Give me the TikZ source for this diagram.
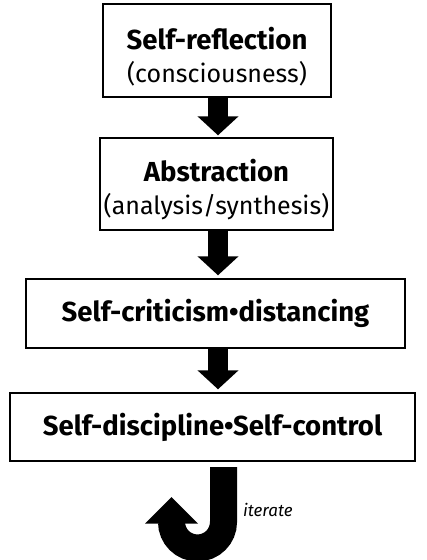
\documentclass[tikz,border=0pt]{standalone}
\usepackage{fontspec}
\setmainfont{Fira Sans}
\usetikzlibrary{arrows.meta}
\newcommand{\bigb}[1]{{\fontsize{27.5}{33}\selectfont\bfseries #1}}
\begin{document}
\begin{tikzpicture}[x=1pt,y=-1pt,
  box/.style={draw, line width=1.4pt, align=center, inner sep=0pt,
    font=\fontsize{25}{33}\selectfont},
  blockarrow/.style={line width=20pt, -{Triangle[width=40pt,length=19pt]}},
  jshape/.style={line width=27pt},
  lbl/.style={font=\fontsize{17}{20}\selectfont\itshape, inner sep=0pt, anchor=west}]
\useasboundingbox (0,0) rectangle (427,560);
\node[box, minimum width=228pt, minimum height=93pt] (b1) at (217,50.5)
  {\rule{0pt}{34pt}\bigb{Self-reflection}\\(consciousness)};
\node[box, minimum width=233pt, minimum height=92pt] (b2) at (216.5,184)
  {\rule{0pt}{34pt}\bigb{Abstraction}\\(analysis/synthesis)};
\node[box, minimum width=379pt, minimum height=69pt] (b3) at (215.5,313.5)
  {\bigb{Self-criticism•distancing}};
\node[box, minimum width=405pt, minimum height=68pt] (b4) at (212.5,427)
  {\bigb{Self-discipline•Self-control}};
\coordinate (a1s) at (218,97);
\draw[blockarrow, shorten >=2pt] (a1s) -- (a1s |- b2.north);
\coordinate (a2s) at (218,230);
\draw[blockarrow, shorten >=3pt] (a2s) -- (a2s |- b3.north);
\coordinate (a3s) at (218,348);
\draw[blockarrow, shorten >=3pt] (a3s) -- (a3s |- b4.north);
% iterate J-arrow
\coordinate (jtop) at (223.5,467);
\draw[jshape] (jtop) -- (223.5,522) arc[start angle=0, end angle=180, radius=26];
\fill (145,523.5) -- (171.5,497) -- (198,523.5) -- cycle;
\node[lbl] (it) at (243,510) {iterate};
\end{tikzpicture}
\end{document}
